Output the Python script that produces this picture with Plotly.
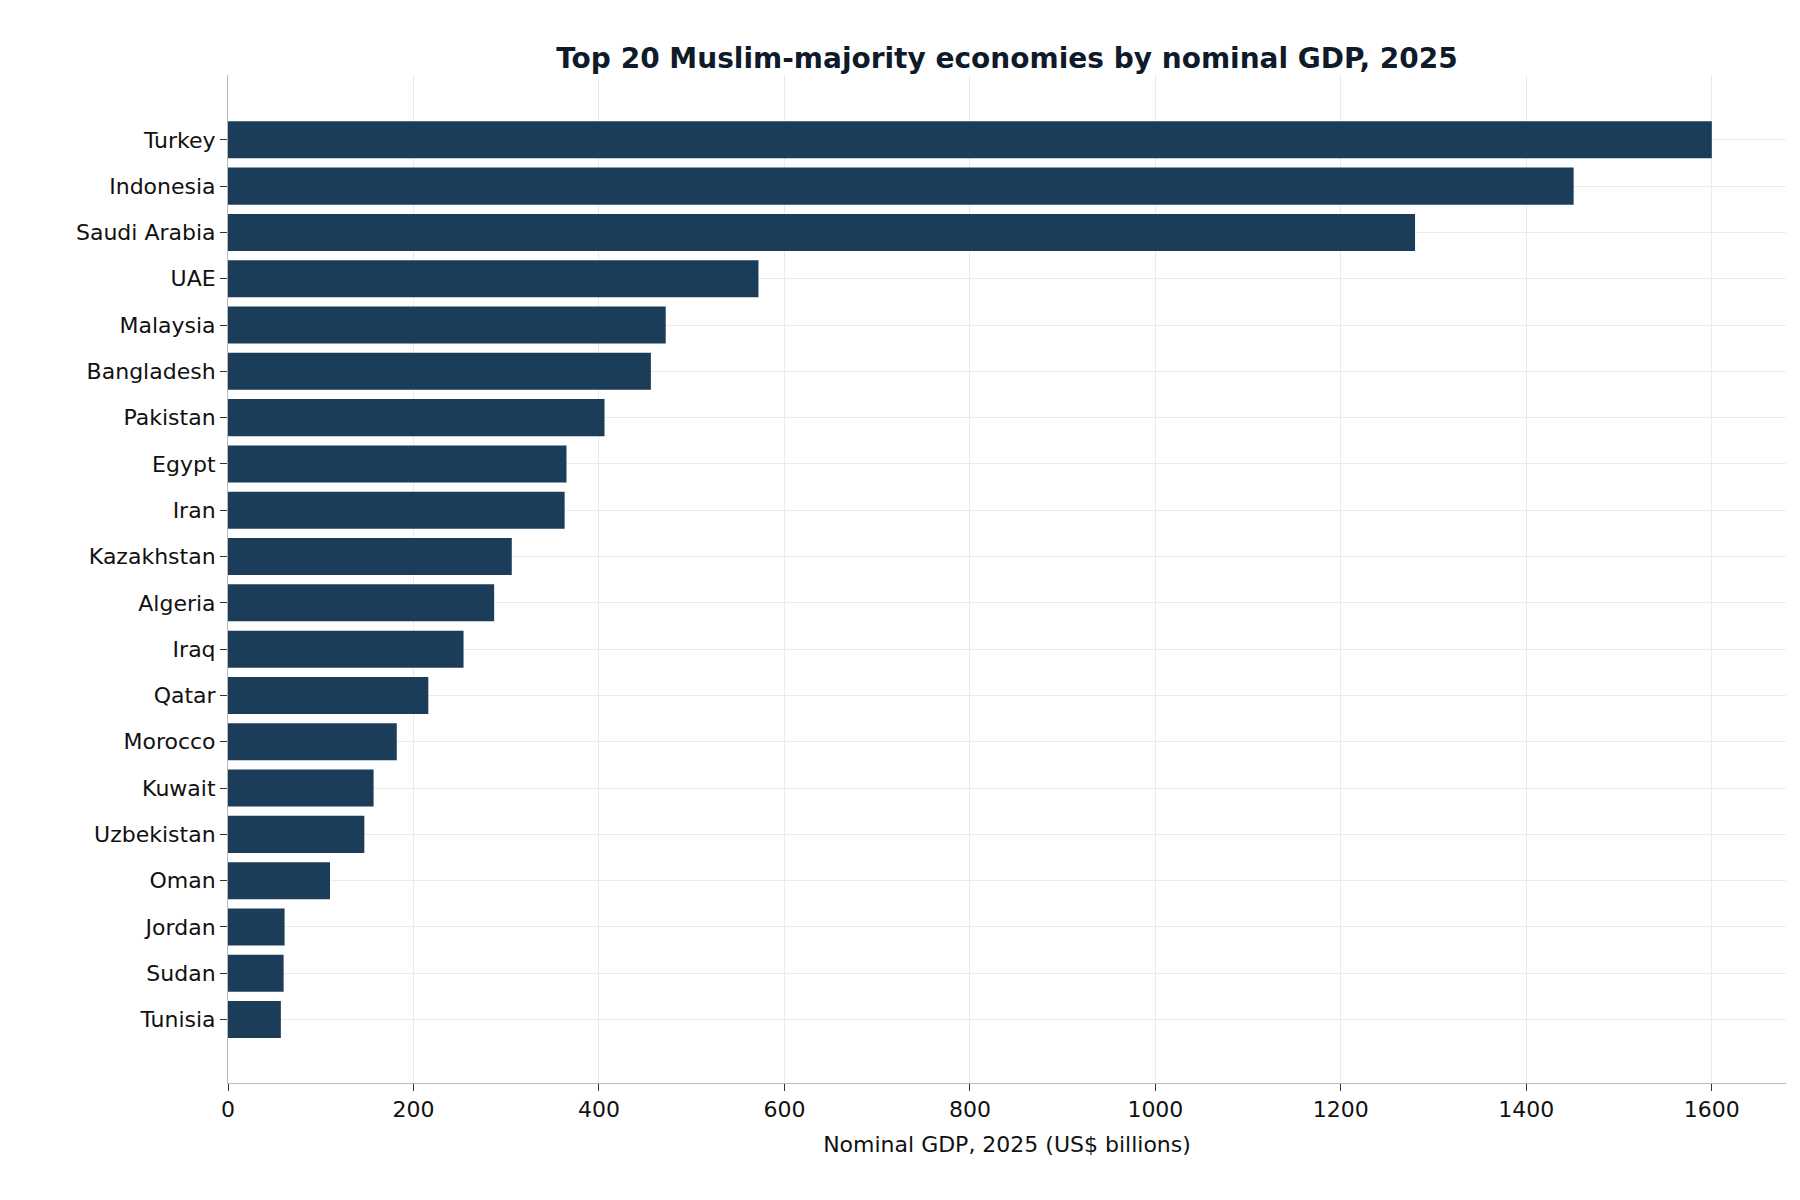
import plotly.graph_objects as go

# nominal GDP 2025, US$ billions
gdp = {
    "Turkey": 1600, "Indonesia": 1451, "Saudi Arabia": 1280, "UAE": 572,
    "Malaysia": 472, "Bangladesh": 456, "Pakistan": 406, "Egypt": 365,
    "Iran": 363, "Kazakhstan": 306, "Algeria": 287, "Iraq": 254,
    "Qatar": 216, "Morocco": 182, "Kuwait": 157, "Uzbekistan": 147,
    "Oman": 110, "Jordan": 61, "Sudan": 60, "Tunisia": 57,
}
countries = list(gdp.keys())
values = list(gdp.values())

fig = go.Figure(go.Bar(
    x=values, y=countries, orientation="h",
    marker=dict(color="#1c3d5a", line=dict(width=0)), width=0.8,
))

fig.update_layout(
    width=1800, height=1200,
    paper_bgcolor="white", plot_bgcolor="white",
    font=dict(family="DejaVu Sans", size=22, color="#111"),
    title=dict(text="<b>Top 20 Muslim-majority economies by nominal GDP, 2025</b>",
               x=0.555, xanchor="center", y=0.966, font=dict(size=28, color="#0f1b2a")),
    margin=dict(l=220, r=22, t=67, b=125),
    showlegend=False,
)
fig.update_xaxes(
    range=[0, 1680], dtick=200, showgrid=True, gridcolor="#ebebeb",
    showline=True, linecolor="#bbbbbb", ticks="outside", ticklen=7,
    tickcolor="#333", zeroline=False,
    title=dict(text="Nominal GDP, 2025 (US$ billions)", font=dict(size=22)),
)
fig.update_yaxes(
    range=[20.37, -1.4], showgrid=True, gridcolor="#ebebeb",
    showline=True, linecolor="#bbbbbb", ticks="outside", ticklen=7,
    tickcolor="#333",
)

fig.write_html("out.html")
